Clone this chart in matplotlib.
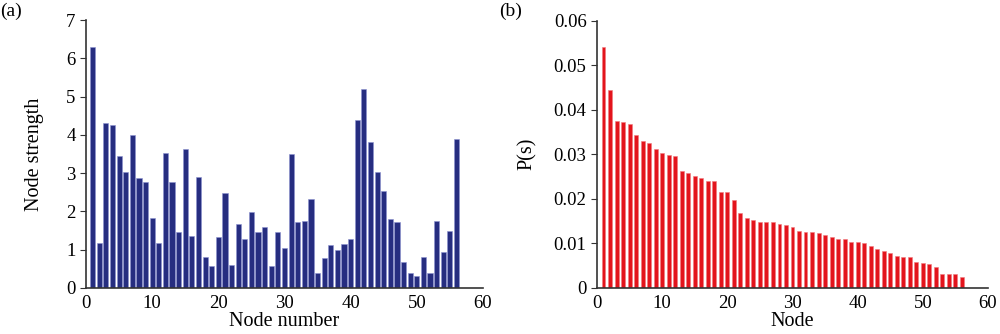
import numpy as np
import matplotlib
matplotlib.use("Agg")
import matplotlib.pyplot as plt

plt.rcParams['font.family'] = ['Liberation Serif', 'DejaVu Serif']

# (a) node strength for nodes 1..56
nodes = np.arange(1, 57)
strength = [6.29, 1.17, 4.30, 4.25, 3.45, 3.02, 3.99, 2.86, 2.77, 1.82,
            1.17, 3.52, 2.76, 1.46, 3.62, 1.36, 2.90, 0.82, 0.58, 1.32,
            2.48, 0.60, 1.66, 1.27, 1.98, 1.46, 1.58, 0.56, 1.46, 1.04,
            3.51, 1.71, 1.76, 2.32, 0.38, 0.79, 1.11, 0.98, 1.16, 1.29,
            4.39, 5.20, 3.80, 3.04, 2.52, 1.81, 1.73, 0.69, 0.38, 0.30,
            0.82, 0.38, 1.76, 0.93, 1.50, 3.89]

# (b) strength distribution P(s), sorted
ps = [0.0540, 0.0445, 0.0375, 0.0372, 0.0367, 0.0343, 0.0331, 0.0325, 0.0311, 0.0302,
      0.0299, 0.0296, 0.0262, 0.0258, 0.0252, 0.0247, 0.0239, 0.0239, 0.0216, 0.0216,
      0.0198, 0.0168, 0.0158, 0.0153, 0.0149, 0.0149, 0.0149, 0.0144, 0.0142, 0.0136,
      0.0128, 0.0126, 0.0126, 0.0124, 0.0119, 0.0115, 0.0109, 0.0109, 0.0104, 0.0102,
      0.0100, 0.0094, 0.0087, 0.0083, 0.0079, 0.0072, 0.0069, 0.0069, 0.0059, 0.0055,
      0.0053, 0.0046, 0.0031, 0.0031, 0.0031, 0.0025]

fig = plt.figure(figsize=(10, 3.34), dpi=100)
ax1 = fig.add_axes([0.086, 0.138, 0.397, 0.802])
ax2 = fig.add_axes([0.597, 0.138, 0.391, 0.800])

spine_col = '#333333'
for ax in (ax1, ax2):
    for s in ('top', 'right'):
        ax.spines[s].set_visible(False)
    for s in ('left', 'bottom'):
        ax.spines[s].set_color(spine_col)
        ax.spines[s].set_linewidth(1.2)
    ax.tick_params(axis='y', direction='out', length=4, color=spine_col, labelsize=13.5)
    ax.tick_params(axis='x', length=0, labelsize=13.5, pad=5)
    ax.set_xlim(0, 60)
    ax.set_xticks([0, 10, 20, 30, 40, 50, 60])

ax1.bar(nodes, strength, width=0.78, color='#262d80', edgecolor='#8b92d0', linewidth=0.4)
ax1.set_ylim(0, 7)
ax1.set_yticks(range(0, 8))
ax1.set_xlabel('Node number', fontsize=14.5, labelpad=0)
ax1.set_ylabel('Node strength', fontsize=14.5, labelpad=16)

ax2.bar(nodes, ps, width=0.6, color='#e3141c', edgecolor='#f07a7e', linewidth=0.4)
ax2.set_ylim(0, 0.06)
ax2.set_yticks([0, 0.01, 0.02, 0.03, 0.04, 0.05, 0.06])
ax2.set_yticklabels(['0', '0.01', '0.02', '0.03', '0.04', '0.05', '0.06'])
ax2.set_xlabel('Node', fontsize=14.5, labelpad=0)
ax2.set_ylabel('P(s)', fontsize=14.5, labelpad=12)

fig.text(0.0, 0.965, '(a)', fontsize=14, va='center')
fig.text(0.499, 0.965, '(b)', fontsize=14, va='center')

fig.savefig('out.png', dpi=100)
